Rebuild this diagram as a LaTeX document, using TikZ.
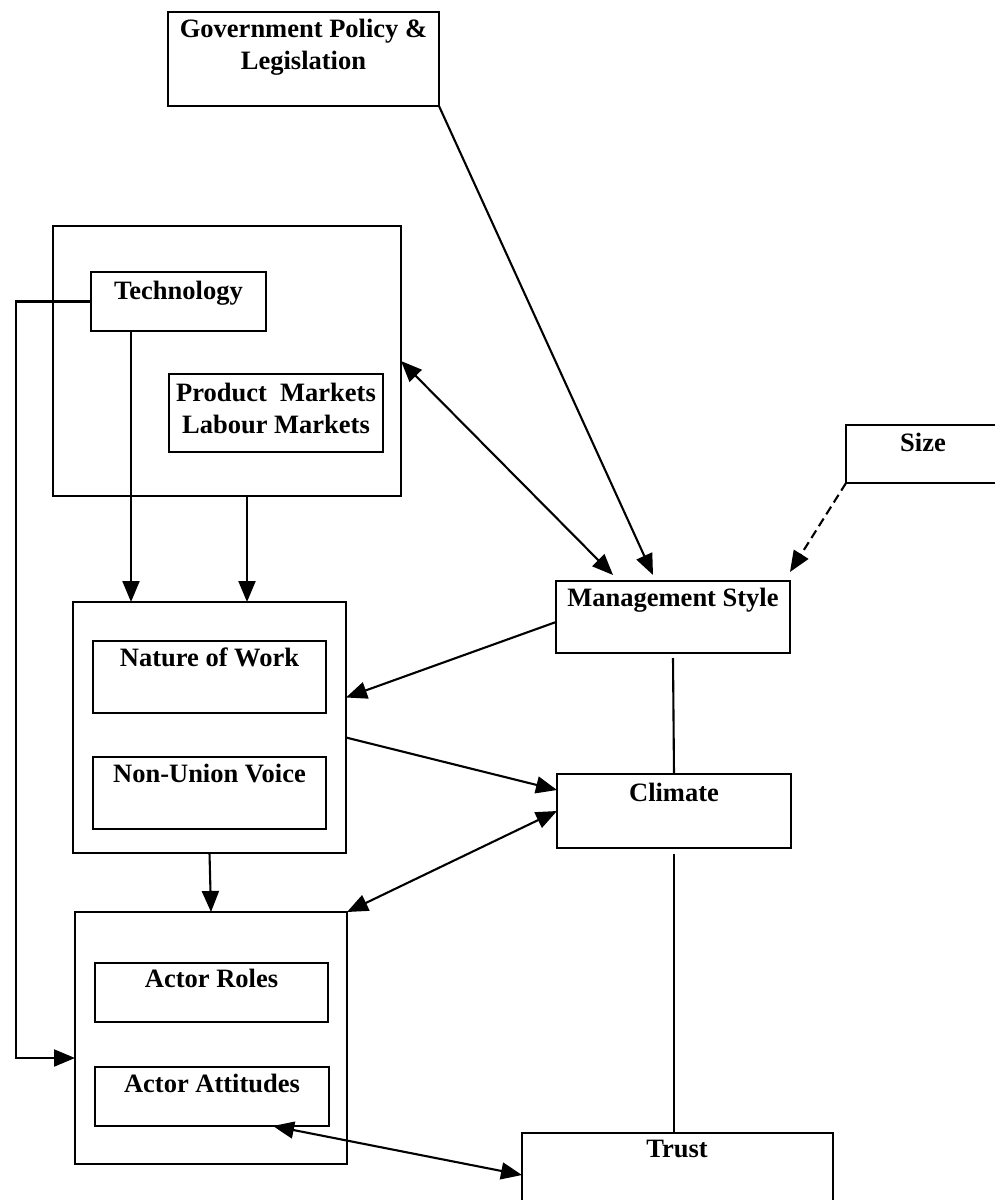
\documentclass[tikz,border=0pt]{standalone}
\usepackage{fontspec}
\setmainfont{Liberation Serif}
\usetikzlibrary{arrows.meta}
\begin{document}
\begin{tikzpicture}[x=1pt,y=-1pt,
  box/.style={draw, line width=2.4pt, anchor=north west, inner sep=0pt, outer sep=0pt},
  lbl/.style={font=\fontsize{26.5}{32}\selectfont\bfseries, inner sep=0pt, anchor=base},
  conn/.style={line width=2.1pt},
  arr/.style={conn, -{Triangle[length=21pt,width=17pt]}},
  darr/.style={conn, {Triangle[length=21pt,width=17pt]}-{Triangle[length=21pt,width=17pt]}},
]
\useasboundingbox (0,0) rectangle (994,1200);

% boxes
\node[box, minimum width=271pt, minimum height=94pt]  (gov)   at (168,12)   {};
\node[box, minimum width=348pt, minimum height=270pt] (ext)   at (53,226)   {};
\node[box, minimum width=175pt, minimum height=59pt]  (tech)  at (91,272)   {};
\node[box, minimum width=214pt, minimum height=78pt]  (mkts)  at (169,374)  {};
\node[box, minimum width=170pt, minimum height=58pt]  (size)  at (846,425)  {};
\node[box, minimum width=234pt, minimum height=72pt]  (mgmt)  at (556,581)  {};
\node[box, minimum width=273pt, minimum height=251pt] (nat)   at (73,602)   {};
\node[box, minimum width=233pt, minimum height=72pt]  (now)   at (93,641)   {};
\node[box, minimum width=233pt, minimum height=72pt]  (nuv)   at (93,757)   {};
\node[box, minimum width=234pt, minimum height=74pt]  (clim)  at (557,774)  {};
\node[box, minimum width=272pt, minimum height=252pt] (act)   at (75,912)   {};
\node[box, minimum width=233pt, minimum height=59pt]  (roles) at (95,963)   {};
\node[box, minimum width=234pt, minimum height=59pt]  (att)   at (95,1067)  {};
\node[box, minimum width=311pt, minimum height=84pt]  (trust) at (522,1133) {};

% labels
\node[lbl] (govA)   at (303.5,37)  {Government Policy \&};
\node[lbl] (govB)   at (303.5,69)  {Legislation};
\node[lbl] (techT)  at (178.5,299) {Technology};
\node[lbl] (mktsA)  at (276,401)   {Product\ \ Markets};
\node[lbl] (mktsB)  at (276,433)   {Labour Markets};
\node[lbl] (sizeT)  at (923,451)   {Size};
\node[lbl] (mgmtT)  at (673,606)   {Management Style};
\node[lbl] (nowT)   at (209.5,666) {Nature of Work};
\node[lbl] (nuvT)   at (209.5,782) {Non-Union Voice};
\node[lbl] (climT)  at (674,801)   {Climate};
\node[lbl] (rolesT) at (211.5,987) {Actor Roles};
\node[lbl] (attT)   at (212,1092)  {Actor Attitudes};
\node[lbl] (trustT) at (677,1157)  {Trust};

% connectors
\draw[arr] (gov.south east) -- ([xshift=97pt,yshift=6pt]mgmt.north west);
\draw[darr] (ext.east) -- ([xshift=57pt,yshift=6pt]mgmt.north west);
\draw[arr, dash pattern=on 9pt off 5pt] (size.south west) -- ([yshift=9pt]mgmt.north east);
\draw[arr] ([xshift=40pt]tech.south west) -- ([xshift=40pt]tech.south west |- nat.north);
\draw[arr] ([xshift=194pt]ext.south west) -- ([xshift=194pt]ext.south west |- nat.north);
\draw[arr] (tech.west) -- ++(-75,0) |- ([yshift=-20pt]act.west);
\draw[arr] ([yshift=-5pt]mgmt.west) -- ([yshift=30pt]nat.east);
\draw[arr] ([yshift=-10pt]nat.east) -- ([yshift=21pt]clim.west);
\draw[darr] (clim.west) -- (act.north east);
\draw[arr] (nat.south) -- (act.north);
\draw[conn] ([yshift=-5pt]mgmt.south) -- (clim.north);
\draw[conn] ([yshift=-6pt]clim.south) -- (clim.south |- trust.north);
\draw[darr] ([xshift=-56pt]att.south east) -- (trust.west);
\end{tikzpicture}
\end{document}
